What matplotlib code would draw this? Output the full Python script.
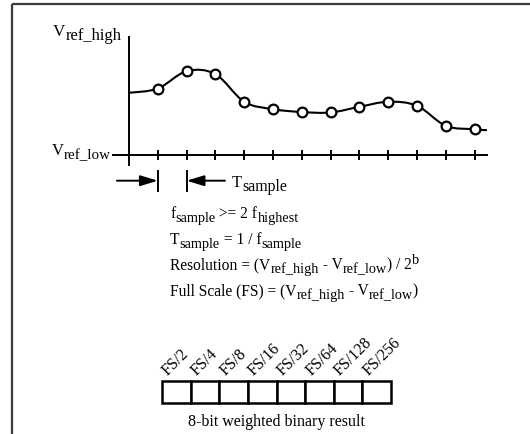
import matplotlib
matplotlib.use("Agg")
import matplotlib.pyplot as plt
from matplotlib.path import Path
from matplotlib.patches import PathPatch

plt.rcParams['font.family'] = ['Liberation Serif', 'DejaVu Serif']

# ---- data ----
sample_idx = [1, 2, 3, 4, 5, 6, 7, 8, 9, 10, 11, 12]
sample_val = [0.559, 0.706, 0.681, 0.447, 0.384, 0.360, 0.356, 0.404, 0.447, 0.413, 0.243, 0.214]
start_point = (0.0, 0.523)
end_point = (12.43, 0.206)
tick_idx = list(range(1, 13))
bit_labels = ['FS/2', 'FS/4', 'FS/8', 'FS/16', 'FS/32', 'FS/64', 'FS/128', 'FS/256']

W, H = 530, 435
fig = plt.figure(figsize=(W / 100, H / 100), dpi=100)
fig.patch.set_facecolor('white')

# overlay in pixel coordinates for frame and text
over = fig.add_axes([0, 0, 1, 1])
over.set_xlim(0, W)
over.set_ylim(H, 0)
over.axis('off')
over.plot([12, W + 5], [5, 5], color='#3c3c3c', lw=1.6, solid_capstyle='butt')
over.plot([12, 12], [5, H + 5], color='#3c3c3c', lw=1.6, solid_capstyle='butt')

renderer = fig.canvas.get_renderer()
FS = 11.2


def rich(x, y, pieces, size=FS, sub_scale=0.92, sub_dy=4.0, sup_dy=-5.0):
    for s, kind in pieces:
        if kind == 'sub':
            fs, dy = size * sub_scale, sub_dy
        elif kind == 'sup':
            fs, dy = size * sub_scale, sup_dy
        else:
            fs, dy = size, 0
        t = over.text(x, y + dy, s, fontsize=fs, va='baseline', ha='left', color='black')
        bb = t.get_window_extent(renderer)
        x += bb.width
    return x


# signal axes
x0, x1 = 129, 487
y_low, y_high = 155.5, 37.5
sig = fig.add_axes([x0 / W, (H - y_low) / H, (x1 - x0) / W, (y_low - y_high) / H])
sig.set_xlim(0, 12.43)
sig.set_ylim(0, 1)
sig.axis('off')
sig.patch.set_alpha(0)

LW = 1.4
sig.plot([-0.56, 12.43], [0, 0], color='black', lw=LW, clip_on=False)
sig.plot([0, 0], [-0.09, 1.0], color='black', lw=LW, clip_on=False)
sig.vlines(tick_idx, -0.047, 0.038, color='black', lw=LW, clip_on=False)

# smooth curve through the samples (Catmull-Rom rendered as Bezier path)
px = [start_point[0]] + sample_idx + [end_point[0]]
py = [start_point[1]] + sample_val + [end_point[1]]
pts = list(zip(px, py))
verts = [pts[0]]
codes = [Path.MOVETO]
n = len(pts)
for i in range(n - 1):
    p0 = pts[i - 1] if i > 0 else pts[i]
    p1 = pts[i]
    p2 = pts[i + 1]
    p3 = pts[i + 2] if i + 2 < n else pts[i + 1]
    c1 = (p1[0] + (p2[0] - p0[0]) / 6, p1[1] + (p2[1] - p0[1]) / 6)
    c2 = (p2[0] - (p3[0] - p1[0]) / 6, p2[1] - (p3[1] - p1[1]) / 6)
    verts += [c1, c2, p2]
    codes += [Path.CURVE4] * 3
sig.add_patch(PathPatch(Path(verts, codes), fill=False, ec='black', lw=1.5, clip_on=False))
sig.plot(sample_idx, sample_val, 'o', ms=7, mfc='white', mec='black', mew=1.6,
         clip_on=False, zorder=5)

# T_sample interval markers
sig.vlines([1, 2], -0.315, -0.129, color='black', lw=LW, clip_on=False)
ap = dict(arrowstyle='-|>,head_length=1.05,head_width=0.32', mutation_scale=10,
          color='black', lw=LW, shrinkA=0, shrinkB=0)
sig.annotate('', xy=(1, -0.222), xytext=(-0.42, -0.222), arrowprops=ap, annotation_clip=False)
sig.annotate('', xy=(2, -0.222), xytext=(3.33, -0.222), arrowprops=ap, annotation_clip=False)

# axis labels
rich(53, 36.5, [('V', 'n'), ('ref_high', 'sub')], size=12.3, sub_scale=0.97)
rich(52, 155.5, [('V', 'n'), ('ref_low', 'sub')], size=12.0, sub_scale=0.9)
rich(232, 187, [('T', 'n'), ('sample', 'sub')], size=11.8, sub_scale=0.97)

# formulas
lx = 170
rich(lx, 218, [('f', 'n'), ('sample', 'sub'), (' >= 2 f', 'n'), ('highest', 'sub')])
rich(lx, 244, [('T', 'n'), ('sample', 'sub'), (' = 1 / f', 'n'), ('sample', 'sub')])
rich(lx, 269, [('Resolution = (V', 'n'), ('ref_high', 'sub'), (' - V', 'n'),
               ('ref_low', 'sub'), (') / 2', 'n'), ('b', 'sup')])
rich(lx, 295, [('Full Scale (FS) = (V', 'n'), ('ref_high', 'sub'), (' - V', 'n'),
               ('ref_low', 'sub'), (')', 'n')])

# 8-bit result boxes
bx0, bx1, by0, by1 = 162, 391, 382, 404
box = fig.add_axes([bx0 / W, (H - by1) / H, (bx1 - bx0) / W, (by1 - by0) / H])
box.set_xlim(0, len(bit_labels))
box.set_ylim(0, 1)
box.axis('off')
box.patch.set_alpha(0)
box.bar(range(len(bit_labels)), [1] * len(bit_labels), width=1, align='edge',
        color='white', edgecolor='black', lw=1.8, clip_on=False)
for i, lab in enumerate(bit_labels):
    box.text(i + 0.21, 1.25, lab, rotation=45, rotation_mode='anchor', ha='left',
             va='baseline', fontsize=11.5)
box.text(len(bit_labels) / 2, -0.45, '8-bit weighted binary result', ha='center',
         va='top', fontsize=11.5)

fig.savefig('out.png', dpi=100, facecolor='white')
